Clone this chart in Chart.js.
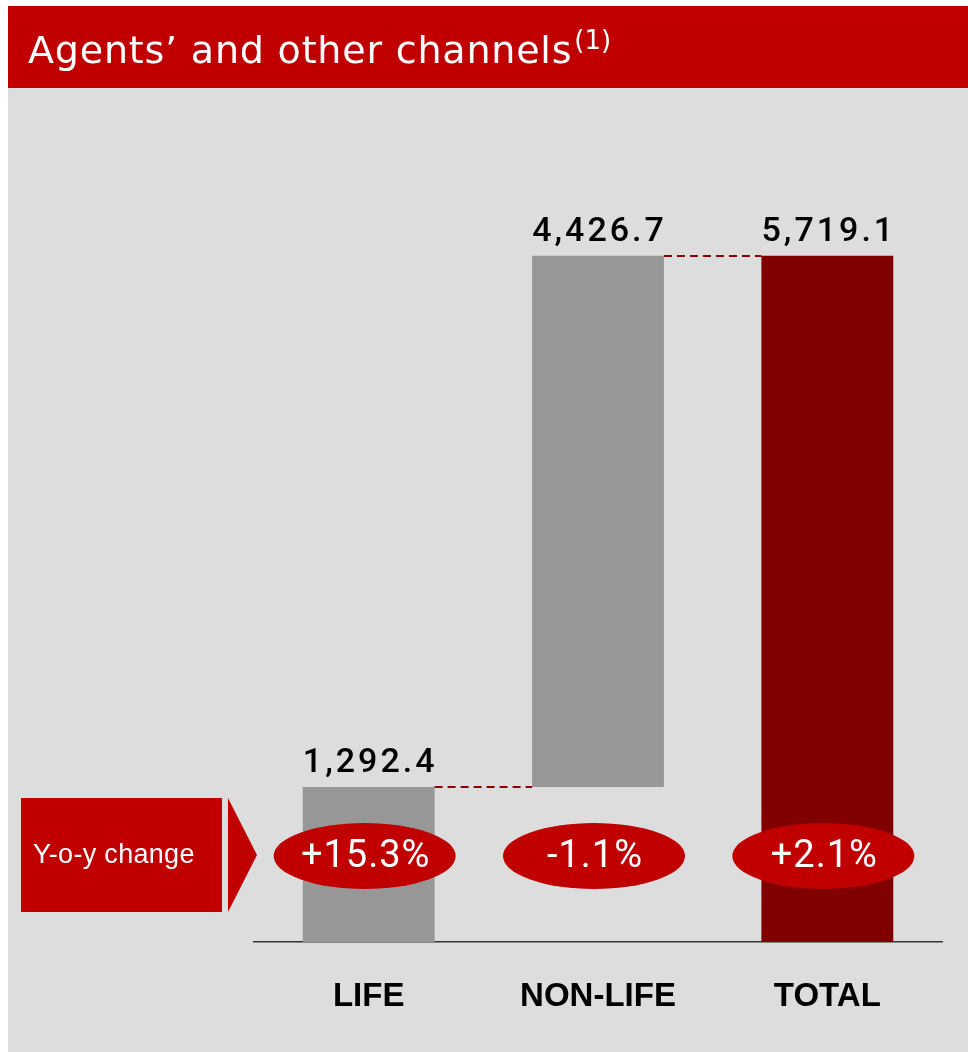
<!DOCTYPE html>
<html>
<head>
<meta charset="utf-8">
<script src="https://cdn.jsdelivr.net/npm/chart.js@4/dist/chart.umd.min.js"></script>
<style>
  html, body { margin: 0; padding: 0; background: #ffffff; }
  canvas { display: block; }
</style>
</head>
<body>
<canvas id="c" width="968" height="1052"></canvas>
<script>
// ---- Data ----
const categories = ['LIFE', 'NON-LIFE', 'TOTAL'];
const barStarts = [0, 1292.4, 0];
const barEnds = [1292.4, 5719.1, 5719.1];
const valueLabels = ['1,292.4', '4,426.7', '5,719.1'];
const yoyChanges = ['+15.3%', '-1.1%', '+2.1%'];
const barColors = ['#979797', '#979797', '#800000'];
const titleText = 'Agents\u2019 and other channels';
const titleNote = '(1)';
const yoyLabel = 'Y-o-y change';

const RED = '#c00000';
const BG = '#dddddd';

const decorPlugin = {
  id: 'decor',
  beforeDraw(chart) {
    const ctx = chart.ctx;
    ctx.save();
    ctx.fillStyle = '#ffffff';
    ctx.fillRect(0, 0, chart.width, chart.height);
    // gray panel
    ctx.fillStyle = BG;
    ctx.fillRect(8, 88, chart.width - 8, chart.height - 88);
    // red header
    ctx.fillStyle = RED;
    ctx.fillRect(8, 6, chart.width - 8, 82);
    // title
    ctx.fillStyle = '#ffffff';
    ctx.font = '38px "DejaVu Sans"';
    ctx.letterSpacing = '0.8px';
    ctx.textBaseline = 'alphabetic';
    ctx.textAlign = 'left';
    ctx.fillText(titleText, 28, 63);
    const w = ctx.measureText(titleText).width;
    ctx.font = '26px "DejaVu Sans"';
    ctx.letterSpacing = '0px';
    ctx.fillText(titleNote, 28 + w + 2, 49);
    // Y-o-y box
    const bottom = chart.chartArea.bottom;
    const boxTop = bottom - 144, boxBot = bottom - 30;
    ctx.fillStyle = RED;
    ctx.fillRect(21, boxTop, 201, boxBot - boxTop);
    ctx.beginPath();
    ctx.moveTo(228, boxTop);
    ctx.lineTo(257, (boxTop + boxBot) / 2);
    ctx.lineTo(228, boxBot);
    ctx.closePath();
    ctx.fill();
    ctx.fillStyle = '#ffffff';
    ctx.font = '27px "Liberation Sans"';
    ctx.letterSpacing = '0.3px';
    ctx.textBaseline = 'middle';
    ctx.fillText(yoyLabel, 33, (boxTop + boxBot) / 2 + 1);
    ctx.restore();
  },
  afterDatasetsDraw(chart) {
    const ctx = chart.ctx;
    const meta = chart.getDatasetMeta(0);
    const ys = chart.scales.y;
    ctx.save();
    // dashed connectors (running total between consecutive bars)
    ctx.strokeStyle = '#8b0000';
    ctx.lineWidth = 2;
    ctx.setLineDash([8, 5]);
    for (let i = 0; i < meta.data.length - 1; i++) {
      const a = meta.data[i], b = meta.data[i + 1];
      const y = Math.round(ys.getPixelForValue(barEnds[i]));
      ctx.beginPath();
      ctx.moveTo(a.x + a.width / 2, y);
      ctx.lineTo(b.x - b.width / 2, y);
      ctx.stroke();
    }
    ctx.setLineDash([]);
    // value labels
    ctx.fillStyle = '#000000';
    ctx.font = '500 34px Roboto';
    ctx.letterSpacing = '3px';
    ctx.textAlign = 'center';
    ctx.textBaseline = 'alphabetic';
    meta.data.forEach((el, i) => {
      const top = ys.getPixelForValue(barEnds[i]);
      ctx.fillText(valueLabels[i], el.x + 1.5, top - 15);
    });
    // y-o-y ellipses
    const cy = chart.chartArea.bottom - 86;
    meta.data.forEach((el, i) => {
      ctx.fillStyle = RED;
      ctx.beginPath();
      ctx.ellipse(el.x - 4, cy, 91, 33, 0, 0, Math.PI * 2);
      ctx.fill();
      ctx.fillStyle = '#ffffff';
      ctx.font = '38px Roboto';
      ctx.letterSpacing = '1px';
      ctx.textBaseline = 'middle';
      ctx.fillText(yoyChanges[i], el.x - 3, cy + 1);
    });
    ctx.restore();
  }
};

new Chart(document.getElementById('c'), {
  type: 'bar',
  data: {
    labels: categories,
    datasets: [{
      data: barStarts.map((s, i) => [s, barEnds[i]]),
      backgroundColor: barColors,
      borderWidth: 0,
      barPercentage: 1,
      categoryPercentage: 0.575
    }]
  },
  options: {
    responsive: false,
    animation: false,
    devicePixelRatio: 1,
    layout: { padding: { left: 254, right: 26, top: 162, bottom: 0 } },
    plugins: { legend: { display: false }, tooltip: { enabled: false } },
    scales: {
      x: {
        grid: { display: false, drawTicks: false },
        border: { display: true, color: '#333333', width: 1.5 },
        ticks: {
          color: '#000000',
          padding: 35,
          font: { family: '"Liberation Sans"', size: 33, weight: 'bold' }
        },
        afterFit(scale) { scale.height = 110; }
      },
      y: {
        display: false,
        min: 0,
        max: 6500
      }
    }
  },
  plugins: [decorPlugin]
});
</script>
</body>
</html>
